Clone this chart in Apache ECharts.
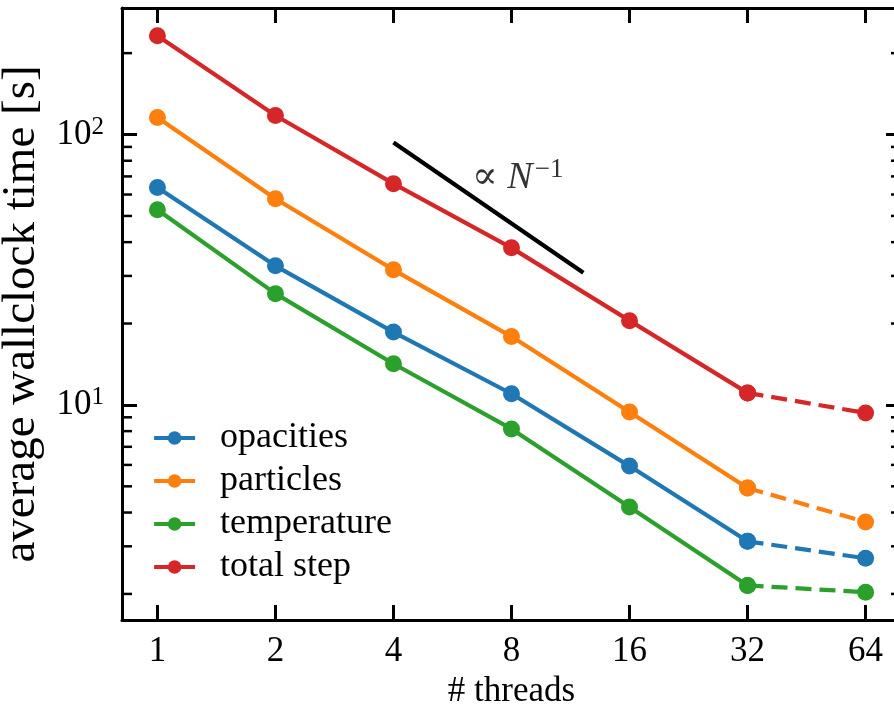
<!DOCTYPE html>
<html>
<head>
<meta charset="utf-8">
<script src="https://cdn.jsdelivr.net/npm/echarts@6/dist/echarts.min.js"></script>
<style>
  html, body { margin: 0; padding: 0; background: #fff; }
  #chart { width: 894px; height: 708px; }
</style>
</head>
<body>
<div id="chart"></div>
<script>
// Thread counts on the x axis
const threads = [1, 2, 4, 8, 16, 32, 64];

// Average wall-clock time per step [s]
const opacities   = [63.7, 32.7, 18.6, 11.0, 5.94, 3.13, 2.71];
const particles   = [115.6, 57.9, 31.6, 17.9, 9.42, 4.93, 3.69];
const temperature = [52.7, 25.8, 14.2, 8.15, 4.19, 2.15, 2.03];
const totalStep   = [232, 117.6, 65.8, 38.1, 20.5, 11.08, 9.34];

// Guide line for ideal scaling
const refThreads = [4, 12.2];
const refTime    = [93.4, 30.8];
const refLabelAt = [8.3, 69];

// Minor y ticks (log decades)
const yMinorTicks = [2, 3, 4, 5, 6, 7, 8, 9, 20, 30, 40, 50, 60, 70, 80, 90, 200];

const seriesDefs = [
  { name: 'opacities',   color: '#1f77b4', values: opacities },
  { name: 'particles',   color: '#ff7f0e', values: particles },
  { name: 'temperature', color: '#2ca02c', values: temperature },
  { name: 'total step',  color: '#d62728', values: totalStep }
];

const FONT = "'Liberation Serif', 'DejaVu Serif', serif";
const X_MIN = Math.pow(2, -0.3), X_MAX = Math.pow(2, 6.3);
const Y_MIN = Math.pow(10, 0.2046), Y_MAX = Math.pow(10, 2.468);
const LW = 4.2;
const SOLID_UNTIL = 5; // index of 32 threads; last segment is dashed

function isPow(v, base) {
  const e = Math.log(v) / Math.log(base);
  return Math.abs(e - Math.round(e)) < 1e-6;
}

const xAxisBase = {
  type: 'log', logBase: 2, min: X_MIN, max: X_MAX, splitNumber: 7,
  axisLine: { show: true, lineStyle: { color: '#000', width: 3 } },
  axisTick: { show: true, inside: true, length: 15, lineStyle: { color: '#000', width: 3 } },
  splitLine: { show: false }
};
const yAxisBase = {
  type: 'log', logBase: 10, min: Y_MIN, max: Y_MAX,
  axisLine: { show: true, lineStyle: { color: '#000', width: 3 } },
  axisTick: { show: true, inside: true, length: 15, lineStyle: { color: '#000', width: 3 } },
  splitLine: { show: false }
};

const series = [];
seriesDefs.forEach(d => {
  const solid = threads.slice(0, SOLID_UNTIL + 1).map((t, i) => [t, d.values[i]]);
  const dashed = threads.slice(SOLID_UNTIL).map((t, i) => [t, d.values[SOLID_UNTIL + i]]);
  series.push({
    name: d.name, type: 'line', data: solid,
    symbol: 'circle', symbolSize: 17,
    itemStyle: { color: d.color },
    lineStyle: { color: d.color, width: LW, type: 'solid' },
    z: 3
  });
  series.push({
    name: d.name, type: 'line', data: dashed,
    symbol: 'circle', symbolSize: 17,
    itemStyle: { color: d.color },
    lineStyle: { color: d.color, width: LW, type: [16, 8] },
    z: 3
  });
});

// ∝ N^-1 guide
series.push({
  name: 'guide', type: 'line',
  data: refThreads.map((t, i) => [t, refTime[i]]),
  symbol: 'none',
  lineStyle: { color: '#000', width: LW },
  silent: true, z: 2
});
series.push({
  name: 'guideLabel', type: 'scatter',
  data: [refLabelAt], symbolSize: 0, silent: true,
  label: {
    show: true, position: 'inside',
    formatter: '{p|∝ }{n|N}{s|−1}',
    rich: {
      p: { fontFamily: FONT, fontSize: 38, color: '#000' },
      n: { fontFamily: FONT, fontSize: 38, fontStyle: 'italic', color: '#000' },
      s: { fontFamily: FONT, fontSize: 27, color: '#000', verticalAlign: 'top', padding: [0, 0, 16, 2] }
    }
  }
});

// Minor ticks on both vertical spines
series.push({
  name: 'yMinor', type: 'custom', silent: true, clip: false,
  data: yMinorTicks.map(v => [1, v]),
  encode: { x: 0, y: 1 },
  renderItem: (params, api) => {
    const cs = params.coordSys;
    const y = api.coord([1, api.value(1)])[1];
    const style = { stroke: '#000', lineWidth: 2.5 };
    return {
      type: 'group',
      children: [
        { type: 'line', shape: { x1: cs.x, y1: y, x2: cs.x + 10, y2: y }, style },
        { type: 'line', shape: { x1: cs.x + cs.width - 10, y1: y, x2: cs.x + cs.width, y2: y }, style }
      ]
    };
  },
  z: 4
});

const chart = echarts.init(document.getElementById('chart'), null, { renderer: 'canvas' });
chart.setOption({
  animation: false,
  backgroundColor: '#fff',
  textStyle: { fontFamily: FONT },
  grid: { left: 122, top: 8, right: -7, bottom: 88, containLabel: false, outerBoundsMode: 'none' },
  legend: {
    data: seriesDefs.map(d => d.name),
    orient: 'vertical', left: 152, top: 420, padding: 0,
    itemWidth: 41, itemHeight: 17, itemGap: 7,
    lineStyle: { width: 4.2 },
    textStyle: { fontFamily: FONT, fontSize: 36, color: '#000', lineHeight: 36, padding: [0, 0, 0, 20] }
  },
  xAxis: [
    Object.assign({}, xAxisBase, {
      position: 'bottom',
      name: '# threads', nameLocation: 'middle', nameGap: 54,
      nameTextStyle: { fontFamily: FONT, fontSize: 35, color: '#000' },
      axisLabel: {
        show: true, margin: 14, fontFamily: FONT, fontSize: 35, color: '#000',
        showMinLabel: false, showMaxLabel: false,
        formatter: v => isPow(v, 2) ? String(Math.round(v)) : ''
      }
    }),
    Object.assign({}, xAxisBase, { position: 'top', axisLabel: { show: false } })
  ],
  yAxis: [
    Object.assign({}, yAxisBase, {
      position: 'left',
      name: 'average wallclock time [s]', nameLocation: 'middle', nameGap: 74,
      nameTextStyle: { fontFamily: FONT, fontSize: 47, color: '#000' },
      axisLabel: {
        show: true, margin: 18, color: '#000',
        showMinLabel: false, showMaxLabel: false,
        formatter: v => isPow(v, 10) ? '{b|10}{s|' + Math.round(Math.log10(v)) + '}' : '',
        rich: {
          b: { fontFamily: FONT, fontSize: 35, color: '#000' },
          s: { fontFamily: FONT, fontSize: 25, color: '#000', verticalAlign: 'top', padding: [0, 0, 14, 0] }
        }
      }
    }),
    Object.assign({}, yAxisBase, { position: 'right', axisLabel: { show: false } })
  ],
  series: series
});
</script>
</body>
</html>
